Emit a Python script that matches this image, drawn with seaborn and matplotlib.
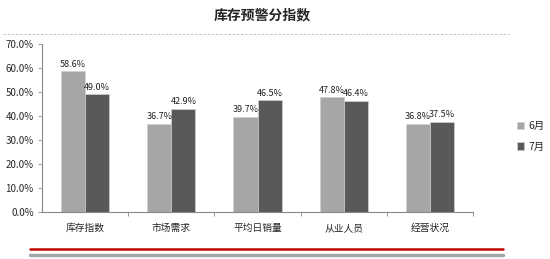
import matplotlib
matplotlib.use("Agg")
import matplotlib.pyplot as plt
from matplotlib.lines import Line2D
from matplotlib.ticker import FixedLocator, PercentFormatter
import seaborn as sns
import pandas as pd

categories = ["库存指数", "市场需求", "平均日销量", "从业人员", "经营状况"]
june = [58.6, 36.7, 39.7, 47.8, 36.8]
july = [49.0, 42.9, 46.5, 46.4, 37.5]
series_names = ["6月", "7月"]
colors = ["#a6a6a6", "#595959"]

df = pd.DataFrame({
    "cat": categories * 2,
    "val": june + july,
    "month": [series_names[0]] * len(categories) + [series_names[1]] * len(categories),
})

sns.set_theme(style="white")
plt.rcParams["font.family"] = ["Noto Sans CJK SC", "DejaVu Sans"]

fig = plt.figure(figsize=(5.5, 2.59), dpi=100)
ax = fig.add_axes([0.0764, 0.1815, 0.7836, 0.6485])

sns.barplot(data=df, x="cat", y="val", hue="month", palette=colors,
            width=0.56, gap=0, ax=ax, legend=True, edgecolor="#d0d0d0", linewidth=0.5)

for c in ax.containers:
    ax.bar_label(c, fmt="%.1f%%", fontsize=6.5, padding=2, color="#222222")

ax.set_ylim(0, 70)
ax.set_xlim(-0.5, len(categories) - 0.5)
ax.yaxis.set_major_locator(FixedLocator([0, 10, 20, 30, 40, 50, 60, 70]))
ax.yaxis.set_major_formatter(PercentFormatter(decimals=1))
ax.set_xlabel("")
ax.set_ylabel("")
ax.tick_params(axis="y", labelsize=7, length=3, width=0.6, color="#888888", left=True, pad=3)
ax.tick_params(axis="x", labelsize=7, length=0, pad=8)
ax.xaxis.set_minor_locator(FixedLocator([i + 0.5 for i in range(len(categories))]))
ax.tick_params(axis="x", which="minor", bottom=True, length=3, width=0.6, color="#888888")
for s in ["top", "right"]:
    ax.spines[s].set_visible(False)
for s in ["left", "bottom"]:
    ax.spines[s].set_color("#888888")
    ax.spines[s].set_linewidth(0.8)

leg = ax.legend(loc="center left", bbox_to_anchor=(1.08, 0.45), frameon=False,
                fontsize=7.5, handlelength=0.7, handleheight=0.7, handletextpad=0.4,
                labelspacing=1.0)

fig.text(0.477, 0.94, "库存预警分指数", ha="center", va="center", fontsize=10, fontweight="bold")

fig.add_artist(Line2D([0.005, 0.925], [0.869, 0.869], transform=fig.transFigure,
                      color="#bbbbbb", linewidth=0.6, linestyle=(0, (3, 2))))
fig.add_artist(Line2D([0.055, 0.915], [0.039, 0.039], transform=fig.transFigure,
                      color="#c00000", linewidth=1.8))
fig.add_artist(Line2D([0.055, 0.915], [0.016, 0.016], transform=fig.transFigure,
                      color="#a6a6a6", linewidth=2.5))

fig.savefig("out.png", dpi=100)
